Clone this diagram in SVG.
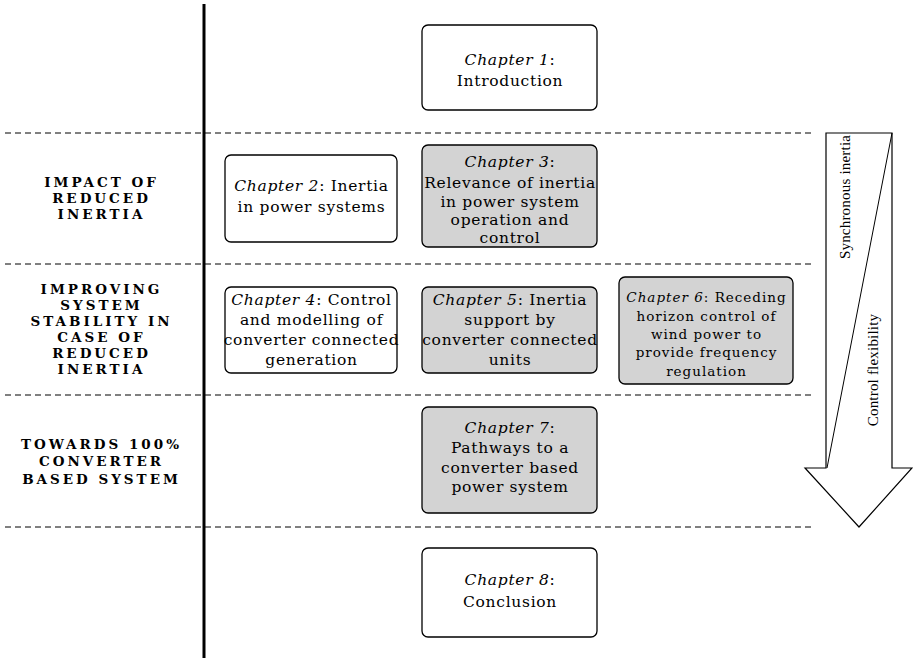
<svg xmlns="http://www.w3.org/2000/svg" width="913" height="658" viewBox="0 0 913 658">
  <style>
    .box { stroke: #000; stroke-width: 1.3; }
    .white { fill: #fff; }
    .grey { fill: #d3d3d3; }
    .sep { stroke: #000; stroke-width: 1; stroke-dasharray: 6 4; fill: none; }
    .t { font-family: "DejaVu Serif", "Liberation Serif", serif; font-size: 15.5px; letter-spacing: 0.7px; fill: #000; text-anchor: middle; }
    .small { font-size: 13.5px; letter-spacing: 1px; }
    .rot { font-family: "Liberation Serif", "DejaVu Serif", serif; font-size: 15px; letter-spacing: 0.2px; }
    .it { font-style: italic; }
    .cap { font-family: "DejaVu Serif", "Liberation Serif", serif; font-size: 13.5px; font-weight: bold; fill: #000; text-anchor: middle; letter-spacing: 3px; }
  </style>
  <rect width="913" height="658" fill="#fff"/>

  <!-- timeline spine and section separators -->
  <g id="frame">
    <line x1="204" y1="4" x2="204" y2="658" stroke="#000" stroke-width="3"/>
    <line class="sep" x1="5" y1="133" x2="812" y2="133"/>
    <line class="sep" x1="5" y1="264" x2="812" y2="264"/>
    <line class="sep" x1="5" y1="395" x2="812" y2="395"/>
    <line class="sep" x1="5" y1="527" x2="812" y2="527"/>
  </g>

  <!-- section headings -->
  <g id="section-impact">
    <text class="cap" x="101.5" y="187">IMPACT OF</text>
    <text class="cap" x="101.5" y="203">REDUCED</text>
    <text class="cap" x="101.5" y="219">INERTIA</text>
  </g>
  <g id="section-improving">
    <text class="cap" x="101.5" y="294">IMPROVING</text>
    <text class="cap" x="101.5" y="310">SYSTEM</text>
    <text class="cap" x="101.5" y="326">STABILITY IN</text>
    <text class="cap" x="101.5" y="342">CASE OF</text>
    <text class="cap" x="101.5" y="358">REDUCED</text>
    <text class="cap" x="101.5" y="374">INERTIA</text>
  </g>
  <g id="section-towards">
    <text class="cap" x="101.5" y="449">TOWARDS 100%</text>
    <text class="cap" x="101.5" y="466">CONVERTER</text>
    <text class="cap" x="101.5" y="484">BASED SYSTEM</text>
  </g>

  <!-- chapters -->
  <g id="ch1">
    <rect class="box white" x="422" y="25" width="175" height="85" rx="6"/>
    <text class="t" x="510" y="65"><tspan class="it">Chapter 1</tspan>:</text>
    <text class="t" x="510" y="86">Introduction</text>
  </g>
  <g id="ch2">
    <rect class="box white" x="225" y="155" width="172" height="87" rx="6"/>
    <text class="t" x="311.5" y="191"><tspan class="it">Chapter 2</tspan>: Inertia</text>
    <text class="t" x="311.5" y="212">in power systems</text>
  </g>
  <g id="ch3">
    <rect class="box grey" x="422" y="145" width="175" height="102" rx="6"/>
    <text class="t" x="510" y="167"><tspan class="it">Chapter 3</tspan>:</text>
    <text class="t" x="510" y="188">Relevance of inertia</text>
    <text class="t" x="510" y="207">in power system</text>
    <text class="t" x="510" y="225">operation and</text>
    <text class="t" x="510" y="243">control</text>
  </g>
  <g id="ch4">
    <rect class="box white" x="225" y="287" width="172" height="86" rx="6"/>
    <text class="t" x="311.5" y="305"><tspan class="it">Chapter 4</tspan>: Control</text>
    <text class="t" x="311.5" y="325">and modelling of</text>
    <text class="t" x="311.5" y="345">converter connected</text>
    <text class="t" x="311.5" y="365">generation</text>
  </g>
  <g id="ch5">
    <rect class="box grey" x="422" y="287" width="175" height="86" rx="6"/>
    <text class="t" x="510" y="305"><tspan class="it">Chapter 5</tspan>: Inertia</text>
    <text class="t" x="510" y="325">support by</text>
    <text class="t" x="510" y="345">converter connected</text>
    <text class="t" x="510" y="365">units</text>
  </g>
  <g id="ch6">
    <rect class="box grey" x="619" y="277" width="174" height="107" rx="6"/>
    <text class="t small" x="706.5" y="302"><tspan class="it">Chapter 6</tspan>: Receding</text>
    <text class="t small" x="706.5" y="321">horizon control of</text>
    <text class="t small" x="706.5" y="339">wind power to</text>
    <text class="t small" x="706.5" y="357">provide frequency</text>
    <text class="t small" x="706.5" y="376">regulation</text>
  </g>
  <g id="ch7">
    <rect class="box grey" x="422" y="407" width="175" height="106" rx="6"/>
    <text class="t" x="510" y="433"><tspan class="it">Chapter 7</tspan>:</text>
    <text class="t" x="510" y="453">Pathways to a</text>
    <text class="t" x="510" y="473">converter based</text>
    <text class="t" x="510" y="492">power system</text>
  </g>
  <g id="ch8">
    <rect class="box white" x="422" y="548" width="175" height="89" rx="6"/>
    <text class="t" x="510" y="585"><tspan class="it">Chapter 8</tspan>:</text>
    <text class="t" x="510" y="607">Conclusion</text>
  </g>

  <!-- trend arrow: inertia decreasing, control flexibility increasing -->
  <g id="trend-arrow">
    <polygon points="826,133 892,133 892,468 912,468 859,527 805,468 826,468" fill="#fff" stroke="#000" stroke-width="1.2" stroke-linejoin="miter"/>
    <line x1="892" y1="133" x2="827" y2="468" stroke="#000" stroke-width="1"/>
    <text class="t rot" transform="translate(850,197) rotate(-90)">Synchronous inertia</text>
    <text class="t rot" transform="translate(878,370) rotate(-90)">Control flexibility</text>
  </g>
</svg>
